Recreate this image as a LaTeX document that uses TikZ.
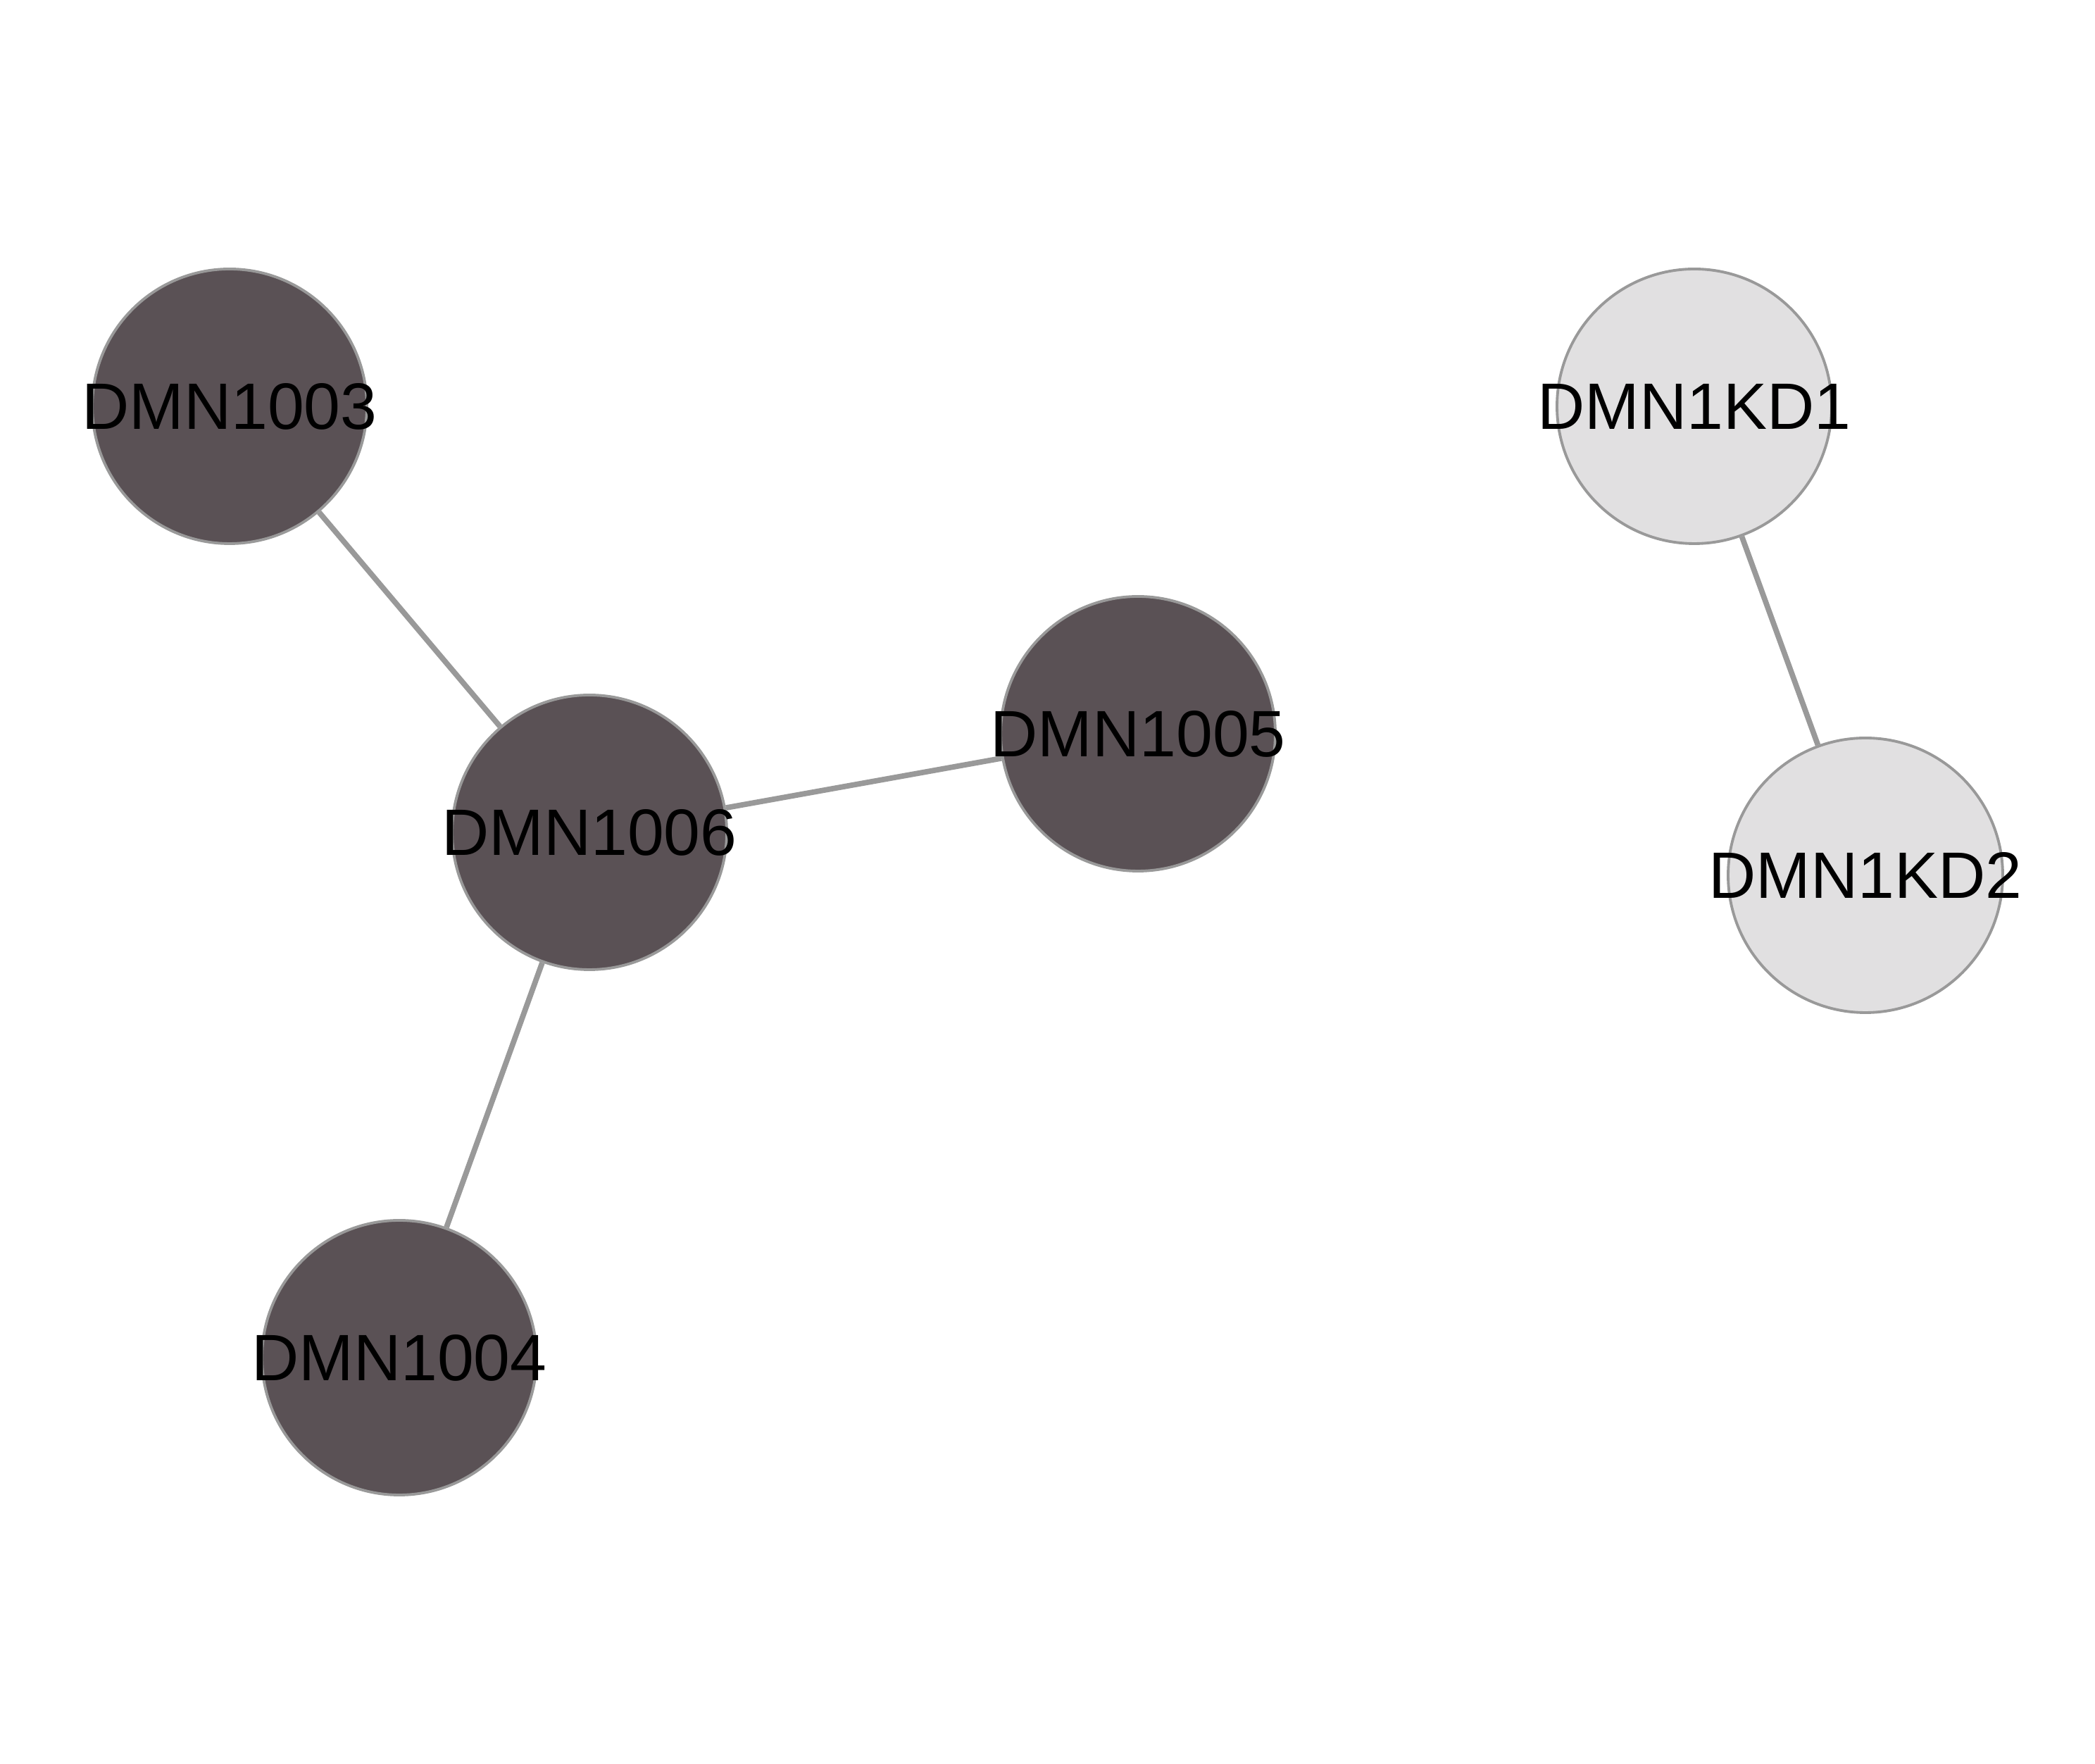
\documentclass[tikz,border=0pt]{standalone}
\usepackage{fontspec}
\setmainfont{Liberation Sans}
\usetikzlibrary{backgrounds}
\definecolor{darkfill}{HTML}{5A5155}
\definecolor{lightfill}{HTML}{E1E0E1}
\definecolor{bordergray}{HTML}{999999}
\definecolor{edgegray}{HTML}{999999}
\tikzset{
  gnode/.style={circle, draw=bordergray, line width=1.1pt, minimum size=3.9cm, inner sep=0pt,
    font=\fontsize{26.5}{30}\selectfont, text=black},
  darknode/.style={gnode, fill=darkfill},
  lightnode/.style={gnode, fill=lightfill},
  gedge/.style={draw=edgegray, line width=2.2pt}
}
\newcommand{\nlabel}[1]{\makebox[0pt]{#1}}
\begin{document}
\begin{tikzpicture}
\useasboundingbox (0,0) rectangle (29.75,25.05);
\node[darknode] (n1003) at (3.26,19.28) {\nlabel{DMN1003}};
\node[darknode] (n1006) at (8.37,13.23) {\nlabel{DMN1006}};
\node[darknode] (n1005) at (16.16,14.63) {\nlabel{DMN1005}};
\node[darknode] (n1004) at (5.67,5.77) {\nlabel{DMN1004}};
\node[lightnode] (kd1) at (24.06,19.28) {\nlabel{DMN1KD1}};
\node[lightnode] (kd2) at (26.49,12.62) {\nlabel{DMN1KD2}};
\begin{scope}[on background layer]
\draw[gedge] (n1003) -- (n1006);
\draw[gedge] (n1006) -- (n1005);
\draw[gedge] (n1006) -- (n1004);
\draw[gedge] (kd1) -- (kd2);
\end{scope}
\end{tikzpicture}
\end{document}
